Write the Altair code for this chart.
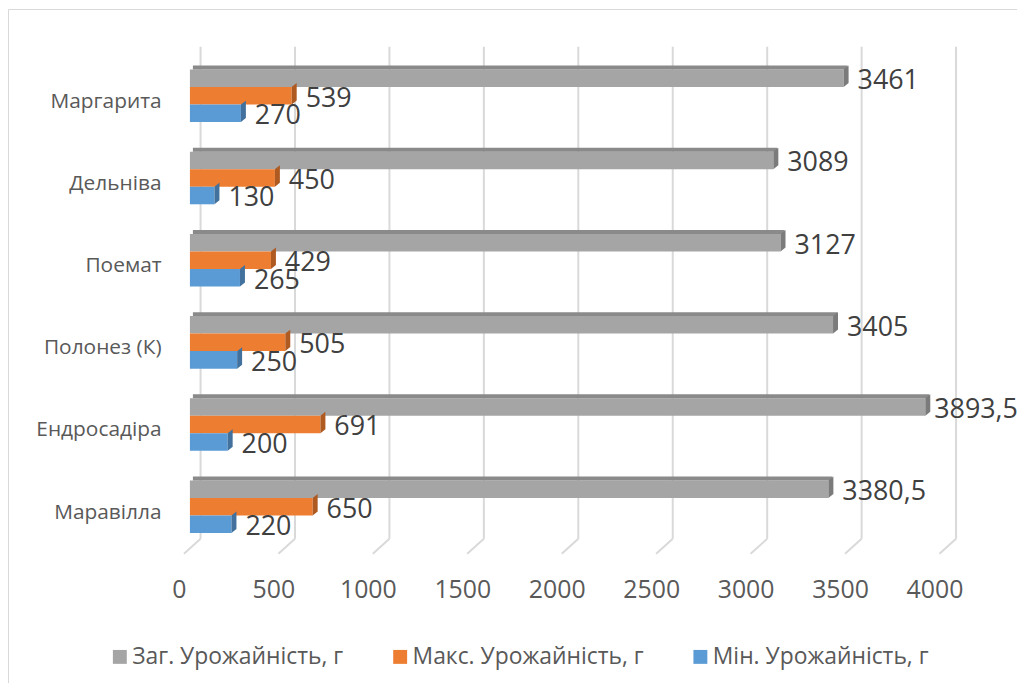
import altair as alt
import pandas as pd

categories = ["Маргарита", "Дельніва", "Поемат", "Полонез (К)", "Ендросадіра", "Маравілла"]
series = ["Заг. Урожайність, г", "Макс. Урожайність, г", "Мін. Урожайність, г"]
total_yield = [3461, 3089, 3127, 3405, 3893.5, 3380.5]
max_yield = [539, 450, 429, 505, 691, 650]
min_yield = [270, 130, 265, 250, 200, 220]
tick_values = [0, 500, 1000, 1500, 2000, 2500, 3000, 3500, 4000]

colors = ["#A5A5A5", "#ED7D31", "#5B9BD5"]
side_colors = ["#7B7B7B", "#AE5A21", "#41719C"]
FONT = "Open Sans"

rows = []
for s, vals in zip(series, [total_yield, max_yield, min_yield]):
    for c, v in zip(categories, vals):
        rows.append({"cat": c, "series": s, "value": v,
                     "label": f"{v:g}".replace(".", ",")})
df = pd.DataFrame(rows)
ticks_df = pd.DataFrame({"tick": tick_values})
frame_df = pd.DataFrame({"k": [0]})

xscale = alt.Scale(domain=[0, 4000], nice=False, zero=True)
yscale = alt.Scale(domain=categories, paddingInner=0.36, paddingOuter=0.18)
yoff_scale = alt.Scale(domain=series, paddingInner=0, paddingOuter=0)

xaxis = alt.Axis(values=tick_values, format="d", labelOverlap=False, labelFlush=False,
                 grid=False, domain=False, ticks=False, tickSize=0, labelPadding=42,
                 labelBaseline="middle", labelOffset=-11,
                 labelFont=FONT, labelFontSize=25, labelColor="#595959", title=None)
yaxis = alt.Axis(domain=False, ticks=False, tickSize=0, labelPadding=29, labelOffset=6,
                 labelFont=FONT, labelFontSize=21, labelColor="#595959", title=None)

def X(field):
    return alt.X(field, scale=xscale, axis=xaxis, title=None)

def Y():
    return alt.Y("cat:N", scale=yscale, sort=categories, axis=yaxis, title=None)

frame = alt.Chart(frame_df).mark_rect(fill="transparent", stroke="#D9D9D9", strokeWidth=1).encode(
    x=alt.value(-182.5), x2=alt.value(1000), y=alt.value(-45.5), y2=alt.value(800)
)

grid = alt.Chart(ticks_df).mark_rule(color="#D9D9D9", strokeWidth=2, xOffset=10.7).encode(
    x=X("tick:Q"),
    y=alt.value(-8), y2=alt.value(487)
)
slant = alt.Chart(ticks_df).mark_rule(color="#D9D9D9", strokeWidth=2, xOffset=10.7, x2Offset=-6).encode(
    x=X("tick:Q"),
    x2=alt.X2("tick:Q"),
    y=alt.value(487), y2=alt.value(502)
)

bars = alt.Chart(df).mark_bar().encode(
    x=X("value:Q"),
    y=Y(),
    yOffset=alt.YOffset("series:N", scale=yoff_scale, sort=series),
    color=alt.Color("series:N", scale=alt.Scale(domain=series, range=colors), sort=series,
                    legend=alt.Legend(title=None, orient="none", legendX=-82, legendY=594,
                                      direction="horizontal", symbolType="square", symbolSize=196,
                                      symbolStrokeWidth=0, labelFont=FONT, labelFontSize=23,
                                      labelColor="#595959", columnPadding=45, labelOffset=1,
                                      labelLimit=0, padding=0)),
)

top_face = alt.Chart(df[df["series"] == series[0]]).mark_rule(
    color="#8A8A8A", strokeWidth=4, xOffset=4, yOffset=-28.4
).encode(
    x=X("value:Q"),
    x2=alt.value(3),
    y=Y(),
)

side_path = "M0,-0.88 L0.5,-1.28 L0.5,0.48 L0,0.88 Z"
side = alt.Chart(df).mark_point(shape=side_path, size=400, filled=True, opacity=1, strokeWidth=0).encode(
    x=X("value:Q"),
    y=Y(),
    yOffset=alt.YOffset("series:N", scale=yoff_scale, sort=series),
    fill=alt.Fill("series:N", scale=alt.Scale(domain=series, range=side_colors), legend=None),
)

text_base = alt.Chart(df).encode(
    x=X("value:Q"),
    y=Y(),
    yOffset=alt.YOffset("series:N", scale=yoff_scale, sort=series),
    text="label:N",
)
text = text_base.mark_text(align="left", baseline="middle", dx=14, dy=3,
                           font=FONT, fontSize=27, color="#404040").transform_filter(
    alt.datum.value < 3800)
text_edge = text_base.mark_text(align="left", baseline="middle", dx=9, dy=3,
                                font=FONT, fontSize=27, color="#404040").transform_filter(
    alt.datum.value >= 3800)

chart = alt.layer(frame, grid, slant, bars, top_face, side, text, text_edge).properties(
    width=760, height=496,
    autosize=alt.AutoSizeParams(type="none"),
    padding={"left": 183, "top": 45, "right": 72, "bottom": 134},
    background="white",
).configure_view(stroke=None)

chart.save("out.html", embed_options={"renderer": "svg", "actions": False})
